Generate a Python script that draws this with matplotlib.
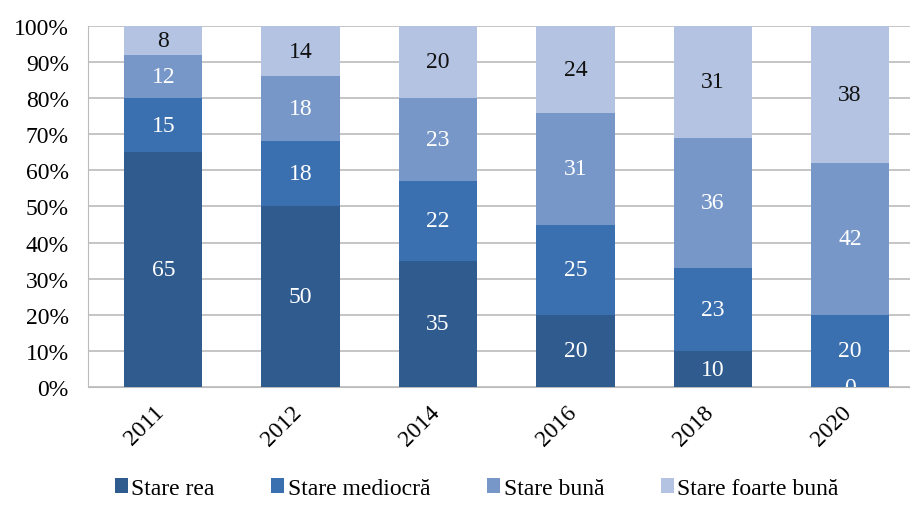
import matplotlib
matplotlib.use("Agg")
import matplotlib.pyplot as plt
import numpy as np

plt.rcParams['font.family'] = ['Liberation Serif', 'DejaVu Serif']

years = ['2011', '2012', '2014', '2016', '2018', '2020']
series_names = ['Stare rea', 'Stare mediocră', 'Stare bună', 'Stare foarte bună']
stare_rea = [65, 50, 35, 20, 10, 0]
stare_mediocra = [15, 18, 22, 25, 23, 20]
stare_buna = [12, 18, 23, 31, 36, 42]
stare_foarte_buna = [8, 14, 20, 24, 31, 38]

colors = ['#2F5B8F', '#3B70B0', '#7897C9', '#B3C3E1']
label_colors = ['white', 'white', 'white', '#111111']

fig = plt.figure(figsize=(9.1, 5.06), dpi=100)
ax = fig.add_axes([0.097, 0.233, 0.903, 0.714])

x = np.arange(len(years))
bottom = np.zeros(len(years))
for vals, name, c, lc in zip([stare_rea, stare_mediocra, stare_buna, stare_foarte_buna],
                             series_names, colors, label_colors):
    vals = np.array(vals, dtype=float)
    ax.bar(x, vals, 0.57, bottom=bottom, color=c, label=name, zorder=3)
    for xi, b, v in zip(x, bottom, vals):
        ax.text(xi, b + v / 2, str(int(v)), ha='center', va='center',
                color=lc, fontsize=17, zorder=4, clip_on=True)
    bottom += vals

ax.set_xlim(-0.546, 5.436)
ax.set_ylim(0, 100)
ax.set_yticks(np.arange(0, 101, 10))
ax.set_yticklabels([f'{t}%' for t in range(0, 101, 10)], fontsize=17)
ax.set_xticks(x + 0.04)
ax.set_xticklabels(years, rotation=45, fontsize=17, ha='right', va='top')
ax.tick_params(axis='both', length=0)
ax.tick_params(axis='y', pad=14)
ax.tick_params(axis='x', pad=10)
ax.grid(axis='y', color='#BBBBBB', linewidth=1.2, zorder=0)
for s in ['top', 'right']:
    ax.spines[s].set_visible(False)
ax.spines['left'].set_color('#BBBBBB')
ax.spines['bottom'].set_color('#BBBBBB')

fig.legend(loc='lower center', ncol=4, frameon=False, fontsize=17,
           bbox_to_anchor=(0.524, -0.03), handlelength=0.55, handleheight=0.55,
           handletextpad=0.15, columnspacing=2.4)

fig.savefig('out.png', dpi=100)
